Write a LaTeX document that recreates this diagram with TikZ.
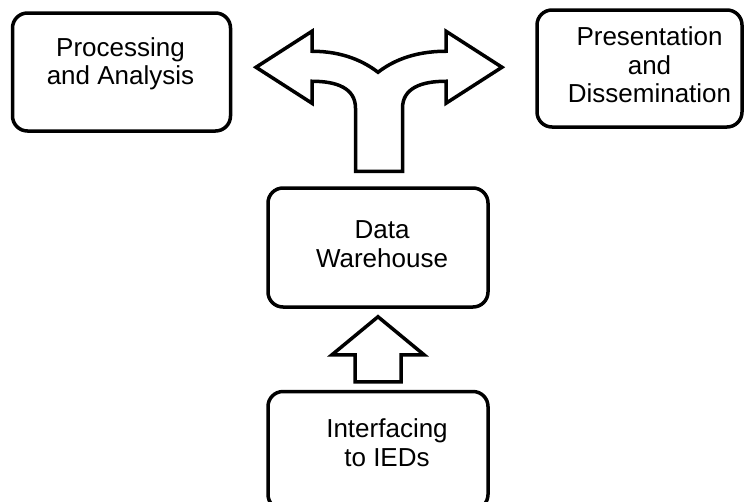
\documentclass[tikz,border=0pt]{standalone}
\usepackage{fontspec}
\setmainfont{Liberation Sans}
\usetikzlibrary{positioning}

\begin{document}
\begin{tikzpicture}[x=1pt,y=-1pt,
  box/.style={draw,line width=3.5pt,rounded corners=15pt,fill=white,inner sep=0pt,
    minimum width=218pt,minimum height=118pt},
  txt/.style={align=center,font=\fontsize{26}{28.5}\selectfont,inner sep=0pt},
  fat/.style={draw,line width=3.5pt,fill=white,line join=miter}]
  \useasboundingbox (0,0) rectangle (746,501);
  \node[box] (proc) at (121.5,72) {};
  \node[box,minimum width=205pt,minimum height=117pt] (pres) at (639.5,68.5) {};
  \node[box,minimum width=220pt,minimum height=119pt] (dw) at (378,247.5) {};
  \node[box,minimum width=220pt,minimum height=118pt,below=81pt of dw.south,anchor=north] (ied) {};
  \node[txt] (proctxt) at ([xshift=-1pt,yshift=8pt]proc.center) {Processing\\and Analysis};
  \node[txt] (prestxt) at ([xshift=10pt,yshift=3.5pt]pres.center) {Presentation\\and\\Dissemination};
  \node[txt] (dwtxt) at ([xshift=4pt,yshift=3.5pt]dw.center) {Data\\Warehouse};
  \node[txt] (iedtxt) at ([xshift=9pt,yshift=8pt]ied.center) {Interfacing\\to IEDs};
  % up arrow from interfacing to warehouse
  \draw[fat] ([yshift=-8pt]dw.south) -- ++(46,38) -- ++(-23,0) -- ++(0,27)
    -- ++(-46,0) -- ++(0,-27) -- ++(-23,0) -- cycle;
  % fork arrow above warehouse
  \begin{scope}[shift={([xshift=1pt]dw.north)}]
    \draw[fat] (-23.5,-15) -- (-23.5,-78) .. controls (-23.5,-98) and (-42,-105) .. (-67,-105)
      -- (-67,-83) -- (-123,-119) -- (-67,-155) -- (-67,-135)
      .. controls (-35,-135) and (-14,-124) .. (-1,-114)
      .. controls (12,-124) and (33,-135) .. (67,-135)
      -- (67,-155) -- (123,-119) -- (67,-83) -- (67,-105)
      .. controls (42,-105) and (23.5,-98) .. (23.5,-78) -- (23.5,-15) -- cycle;
  \end{scope}
\end{tikzpicture}
\end{document}
